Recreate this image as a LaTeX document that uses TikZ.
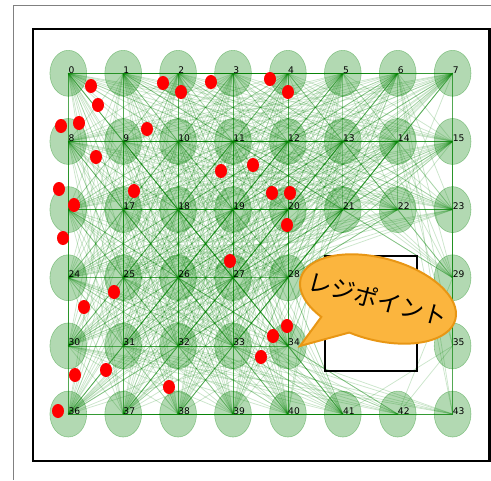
\documentclass[tikz,border=0pt]{standalone}
\usepackage{fontspec}
\usepackage{tikz}
\usetikzlibrary{shapes.geometric,shapes.callouts}
\newfontfamily\labelfont{DejaVu Sans}
\newfontfamily\jpfont{Noto Sans CJK JP}
\definecolor{mplgreen}{RGB}{0,128,0}
\definecolor{regifill}{RGB}{251,181,62}
\definecolor{regidraw}{RGB}{232,150,20}
\newcount\wpidx
\tikzset{
    waypt/.style={ellipse, draw=mplgreen, fill=mplgreen, draw opacity=0.35,
                  fill opacity=0.3, minimum width=0.92cm, minimum height=1.15cm,
                  inner sep=0pt},
    wplbl/.style={anchor=base west, inner sep=0pt,
                  font=\labelfont\fontsize{6.5}{7}\selectfont},
    roadedge/.style={mplgreen, opacity=0.2, line width=0.55pt},
    refdot/.style={fill=red},
    obstacle/.style={draw=black, line width=1.5pt},
    bubble/.style={ellipse callout, draw=regidraw, fill=regifill, line width=1.4pt,
                   minimum width=4cm, minimum height=2.05cm, inner sep=0pt,
                   callout pointer arc=25},
}

\begin{document}
\begin{tikzpicture}[x=0.025cm, y=-0.025cm]
    \useasboundingbox (0,0) rectangle (491,480);
    \draw[gray, line width=0.7pt] (491,5) -- (13,5) -- (13,480);
    \draw[line width=1.8pt] (33,29) rectangle (489.5,461);

    % waypoints on the grid, the two columns beside the register are left out
    \global\wpidx=0
    \foreach \r in {0,...,5}{
        \foreach \c in {0,...,7}{
            \pgfmathtruncatemacro\inobst{(\r>2)*(\r<5)*(\c>4)*(\c<7)}
            \ifnum\inobst=0
                \edef\wpk{\the\wpidx}
                \node[waypt] (n\wpk) at ({68.3+54.9*\c},{73.3+68.15*\r}) {};
                \expandafter\xdef\csname wpx\wpk\endcsname{\c}
                \expandafter\xdef\csname wpy\wpk\endcsname{\r}
                \global\advance\wpidx by 1
            \fi
        }
    }

    % roadmap: every pair whose segment misses the register
    \foreach \i in {0,...,42}{
        \pgfmathtruncatemacro\jfirst{\i+1}
        \foreach \j in {\jfirst,...,43}{
            \edef\xa{\csname wpx\i\endcsname}\edef\ya{\csname wpy\i\endcsname}
            \edef\xb{\csname wpx\j\endcsname}\edef\yb{\csname wpy\j\endcsname}
            \pgfmathsetmacro\fa{(\xb-\xa)*(2.68-\ya)-(\yb-\ya)*(4.68-\xa)}
            \pgfmathsetmacro\fb{(\xb-\xa)*(2.68-\ya)-(\yb-\ya)*(6.35-\xa)}
            \pgfmathsetmacro\fc{(\xb-\xa)*(4.25-\ya)-(\yb-\ya)*(4.68-\xa)}
            \pgfmathsetmacro\fd{(\xb-\xa)*(4.25-\ya)-(\yb-\ya)*(6.35-\xa)}
            \pgfmathtruncatemacro\blocked{(max(\xa,\xb)>4.68)*(min(\xa,\xb)<6.35)*(max(\ya,\yb)>2.68)*(min(\ya,\yb)<4.25)*(min(\fa,\fb,\fc,\fd)<0)*(max(\fa,\fb,\fc,\fd)>0)}
            \ifnum\blocked=0
                \draw[roadedge] (n\i.center) -- (n\j.center);
            \fi
        }
    }

    \foreach \k in {0,...,43}
        \node[wplbl] (l\k) at (n\k.center) {\k};

    % sampled positions
    \foreach \x/\y in {91/86,98/105,163/83,181/92,211/82,61/126,79/123,147/129,
                       96/157,221/171,134/191,59/189,74/205,63/238,270/79,288/92,
                       253/165,272/193,290/193,287/225,230/261,114/292,84/307,
                       106/370,75/375,169/387,58/411,287/326,273/336,261/357}
        \fill[refdot] (\x,\y) ellipse [x radius=6, y radius=7];

    \draw[obstacle] (325,256) rectangle (417,371);

    \node[bubble, rotate=-15, callout absolute pointer={(300,346)}] (regi) at (378,299) {};
    \node[rotate=-15, font=\jpfont\fontsize{17}{20}\selectfont] (regitext) at (regi.center) {レジポイント};
\end{tikzpicture}
\end{document}
